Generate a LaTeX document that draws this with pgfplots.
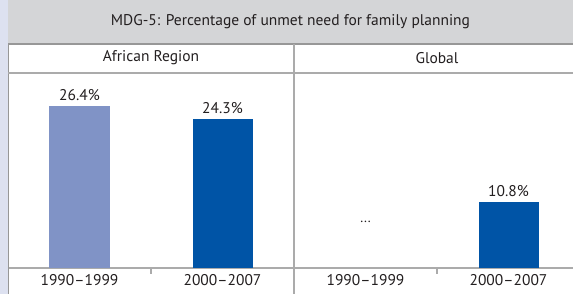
\documentclass[border=0pt]{standalone}
\usepackage{pgfplots}
\pgfplotsset{compat=1.18}
\usepackage{fontspec}
\setmainfont{PT Sans}
\definecolor{lav}{HTML}{DDE1F0}
\definecolor{band}{HTML}{D4D5D7}
\definecolor{bord}{HTML}{979797}
\definecolor{divl}{HTML}{ABABAB}
\definecolor{lightbar}{HTML}{8093C6}
\definecolor{darkbar}{HTML}{0054A6}
\definecolor{txt}{HTML}{231F20}
\newcommand{\fs}{\fontsize{15.5}{18}\selectfont}
\begin{document}
\begin{tikzpicture}[x=1pt,y=1pt]
\useasboundingbox (0,0) rectangle (573,294);
\clip (0,0) rectangle (573,294);
\fill[lav] (0,0) rectangle (8,294);
\fill[band] (8,251) rectangle (573,294);
\fill[white] (8,0) rectangle (573,251);
\node[font=\fs, text=txt] at (290.5,272) {MDG-5: Percentage of unmet need for family planning};
\node[font=\fs, text=txt] at (151,236) {African Region};
\node[font=\fs, text=txt] at (437,236) {Global};
\pgfplotsset{
  panel/.style={
    scale only axis, width=286pt, height=195pt,
    ymin=0, ymax=31.8, xmin=-0.5, xmax=1.5,
    axis x line*=bottom, axis y line=none,
    x axis line style={divl, line width=1.2pt, -},
    xtick={0,1}, xticklabels={1990--1999,2000--2007},
    major tick length=0pt,
    extra x ticks={0.5}, extra x tick labels={},
    extra x tick style={major tick length=6pt, tick align=outside, tick style={divl, line width=1.2pt}},
    ticklabel style={font=\fs, text=txt},
    xticklabel style={yshift=-3pt},
    /pgf/number format/assume math mode=true,
    ybar, bar width=60pt, bar shift=0pt,
    nodes near coords={\pgfmathprintnumber[fixed,precision=1,fixed zerofill]{\pgfplotspointmeta}\%},
    every node near coord/.append style={font=\fs, text=txt, yshift=2pt},
    clip=false,
  }
}
\begin{axis}[panel, at={(8pt,26pt)}, anchor=south west]
\addplot[draw=none, fill=lightbar] coordinates {(0,26.4)};
\addplot[draw=none, fill=darkbar] coordinates {(1,24.3)};
\end{axis}
\begin{axis}[panel, at={(294pt,26pt)}, anchor=south west]
\addplot[draw=none, fill=darkbar] coordinates {(1,10.8)};
\node[font=\fontsize{13.5}{15}\selectfont, text=txt] at (axis cs:0,7.6) {...};
\end{axis}
\draw[bord, line width=1.5pt] (8,250) -- (573,250);
\draw[bord, line width=1.2pt] (8.6,0) -- (8.6,250);
\draw[divl, line width=1.2pt] (8,221) -- (573,221);
\draw[divl, line width=1.5pt] (294,0) -- (294,250);
\end{tikzpicture}
\end{document}
